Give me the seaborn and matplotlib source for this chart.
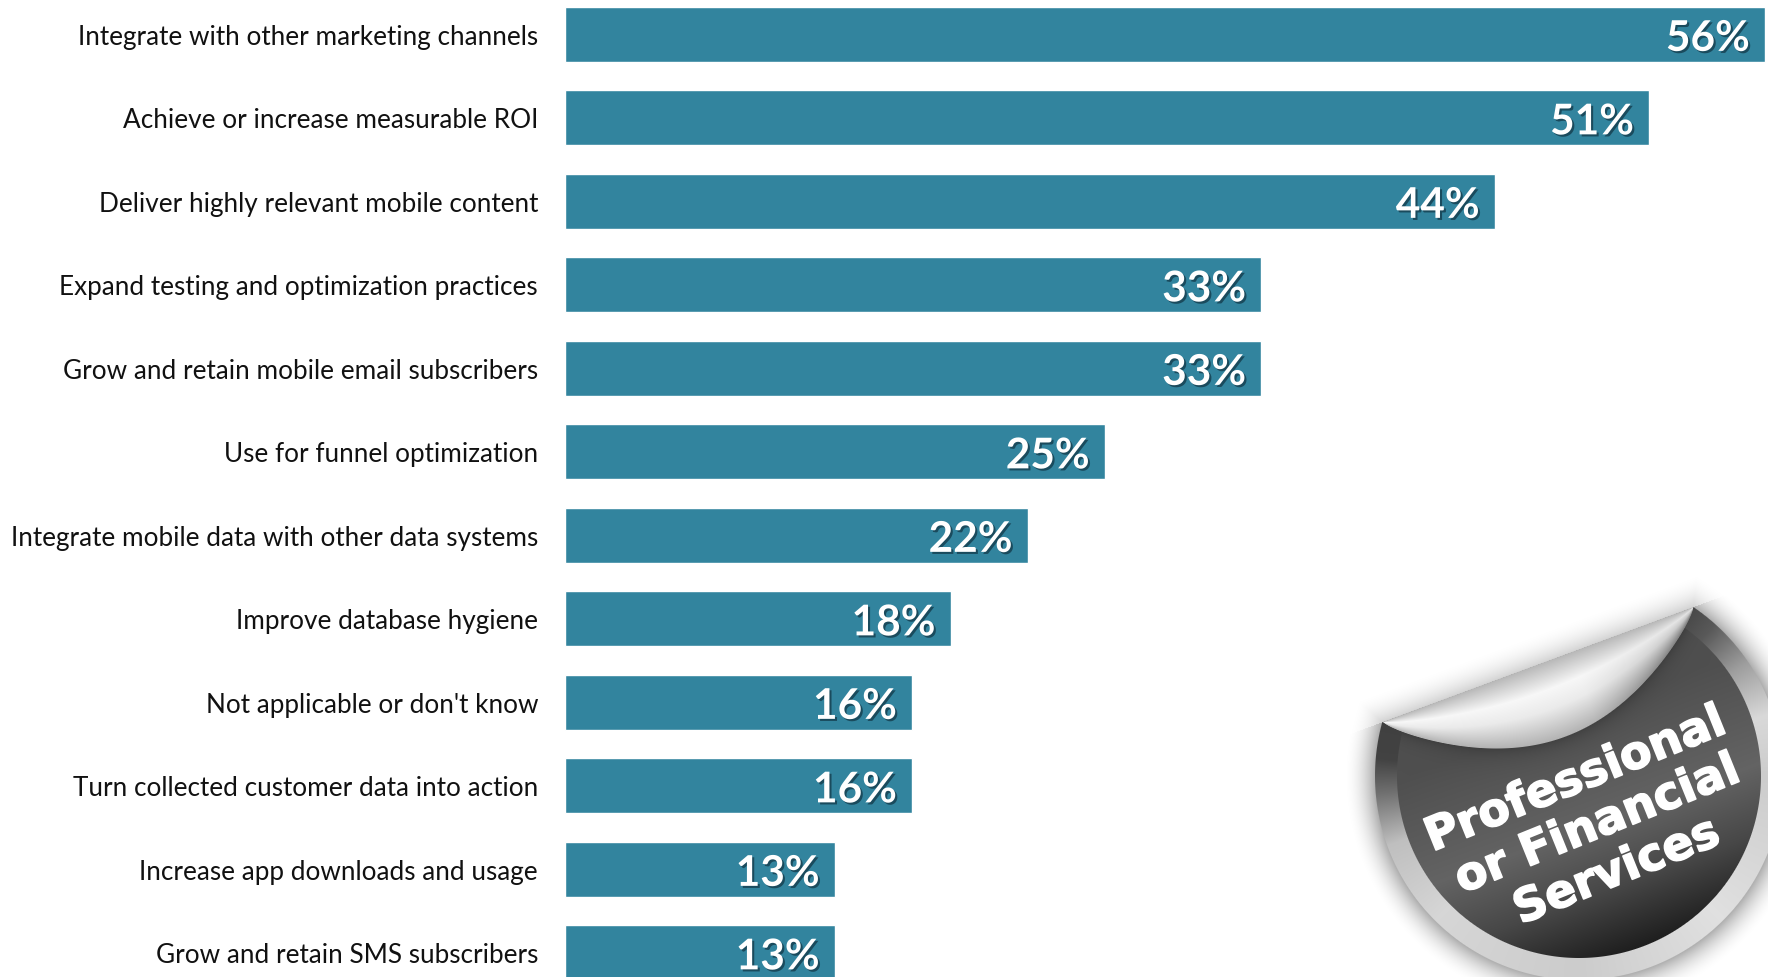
import numpy as np
import pandas as pd
import matplotlib
matplotlib.use("Agg")
import matplotlib.pyplot as plt
import matplotlib.patheffects as pe
import seaborn as sns

categories = [
    "Integrate with other marketing channels",
    "Achieve or increase measurable ROI",
    "Deliver highly relevant mobile content",
    "Expand testing and optimization practices",
    "Grow and retain mobile email subscribers",
    "Use for funnel optimization",
    "Integrate mobile data with other data systems",
    "Improve database hygiene",
    "Not applicable or don't know",
    "Turn collected customer data into action",
    "Increase app downloads and usage",
    "Grow and retain SMS subscribers",
]
# bar lengths as measured, the printed labels are rounded
values = [56.0, 50.6, 43.4, 32.5, 32.5, 25.2, 21.6, 18.0, 16.2, 16.2, 12.6, 12.6]
value_labels = ["56%", "51%", "44%", "33%", "33%", "25%", "22%", "18%", "16%", "16%", "13%", "13%"]
badge_lines = ["Professional", "or Financial", "Services"]

W, H = 1768, 978
BAR_LEFT = 565
PX_PER_PCT = 21.43
ROW_H = 83.5
ROW0 = 35.0

sns.set_theme(style="white")
plt.rcParams["font.family"] = ["Lato", "DejaVu Sans"]

fig = plt.figure(figsize=(W / 100, H / 100), dpi=100, facecolor="white")
ax = fig.add_axes([BAR_LEFT / W, 0, 1 - BAR_LEFT / W, 1])

df = pd.DataFrame({"goal": categories, "share": values})
sns.barplot(data=df, x="share", y="goal", orient="h", color="#32849E", saturation=1,
            width=55 / ROW_H, ax=ax)
ax.set_xlim(0, (W - BAR_LEFT) / PX_PER_PCT)
ax.set_ylim((H - ROW0) / ROW_H, -ROW0 / ROW_H)
ax.set_xlabel("")
ax.set_ylabel("")
ax.set_xticks([])
ax.tick_params(axis="y", length=0, pad=19.4, labelsize=18.8, labelcolor="#111111")
sns.despine(ax=ax, left=True, bottom=True)

shadow = [pe.withSimplePatchShadow(offset=(1.5, -1.5), shadow_rgbFace="#123848", alpha=0.75)]
for i, (v, lab) in enumerate(zip(values, value_labels)):
    ax.annotate(lab, xy=(v, i), xytext=(-11, -3.5), textcoords="offset points", ha="right",
                va="center", color="white", fontsize=30.5, fontweight="bold", path_effects=shadow)


def smooth(a):
    return np.clip(a + 0.5, 0, 1)


# sticker in the corner, painted to an array in pixel space
X0, Y0 = 1330, 570
xx, yy = np.meshgrid(np.arange(X0, W) + 0.5, np.arange(Y0, H) + 0.5)
cx, cy, r_out, r_in = 1579.0, 777.0, 204.0, 182.0
dist = np.hypot(xx - cx, yy - cy)
ang = np.degrees(np.arctan2(yy - cy, xx - cx)) % 360
u = (xx - 1383) * 0.938 - (yy - 723) * 0.347
v = (xx - 1383) * 0.347 + (yy - 723) * 0.938
fold_v = 77 * np.sin(np.pi * np.clip(u, 0, 331) / 331) ** 0.8

ring = np.interp(ang, [0, 45, 90, 135, 160, 175, 185, 200, 300, 312, 326, 342, 360],
                 [0.80, 0.88, 0.80, 0.84, 0.75, 0.44, 0.26, 0.25, 0.25, 0.35, 0.62, 0.85, 0.80])
disc = np.interp(v, [60, 170, 235, 300, 330, 400], [0.31, 0.39, 0.28, 0.12, 0.10, 0.10])
disc = disc * (1 - 0.2 * np.exp(-np.clip(v - fold_v, 0, None) / 9))
frac = np.clip(v / np.maximum(fold_v, 1), 0, 1)
fold = np.interp(frac, [0, 0.35, 0.6, 1], [0.72, 0.97, 0.92, 0.70])
fold = fold - 0.25 * np.clip((u - 200) / 130, 0, 1) * frac

gray = ring.copy()
m_disc = smooth(r_in - dist)
gray = gray * (1 - m_disc) + disc * m_disc
m_fold = smooth(fold_v - v) * ((u > 0) & (u < 331))
gray = gray * (1 - m_fold) + fold * m_fold

shape = np.maximum(dist - r_out, -v)
alpha = smooth(-shape)
shade = 0.32 * np.clip(1 - shape / 32, 0, 1) ** 2 * (shape > -1)
shade = shade * np.where(v < 0, 0.55, 1.0)
rgba = np.zeros(xx.shape + (4,))
out_a = alpha + (1 - alpha) * shade
rgba[..., :3] = (gray * alpha / np.maximum(out_a, 1e-6))[..., None]
rgba[..., 3] = out_a

ax2 = fig.add_axes([0, 0, 1, 1], facecolor="none")
ax2.imshow(rgba, extent=(X0, W, H, Y0), interpolation="bilinear", aspect="auto", zorder=1)
ax2.set_xlim(0, W)
ax2.set_ylim(H, 0)
ax2.axis("off")
heavy = [pe.withStroke(linewidth=1.2, foreground="white")]
for line, (tx, ty) in zip(badge_lines, [(1576, 781), (1598, 826), (1617, 873)]):
    ax2.text(tx, ty, line, rotation=22, rotation_mode="anchor", ha="center", va="center",
             color="white", fontsize=33, fontweight="bold", family="DejaVu Sans", zorder=2,
             path_effects=heavy)

fig.savefig("out.png", dpi=100)
